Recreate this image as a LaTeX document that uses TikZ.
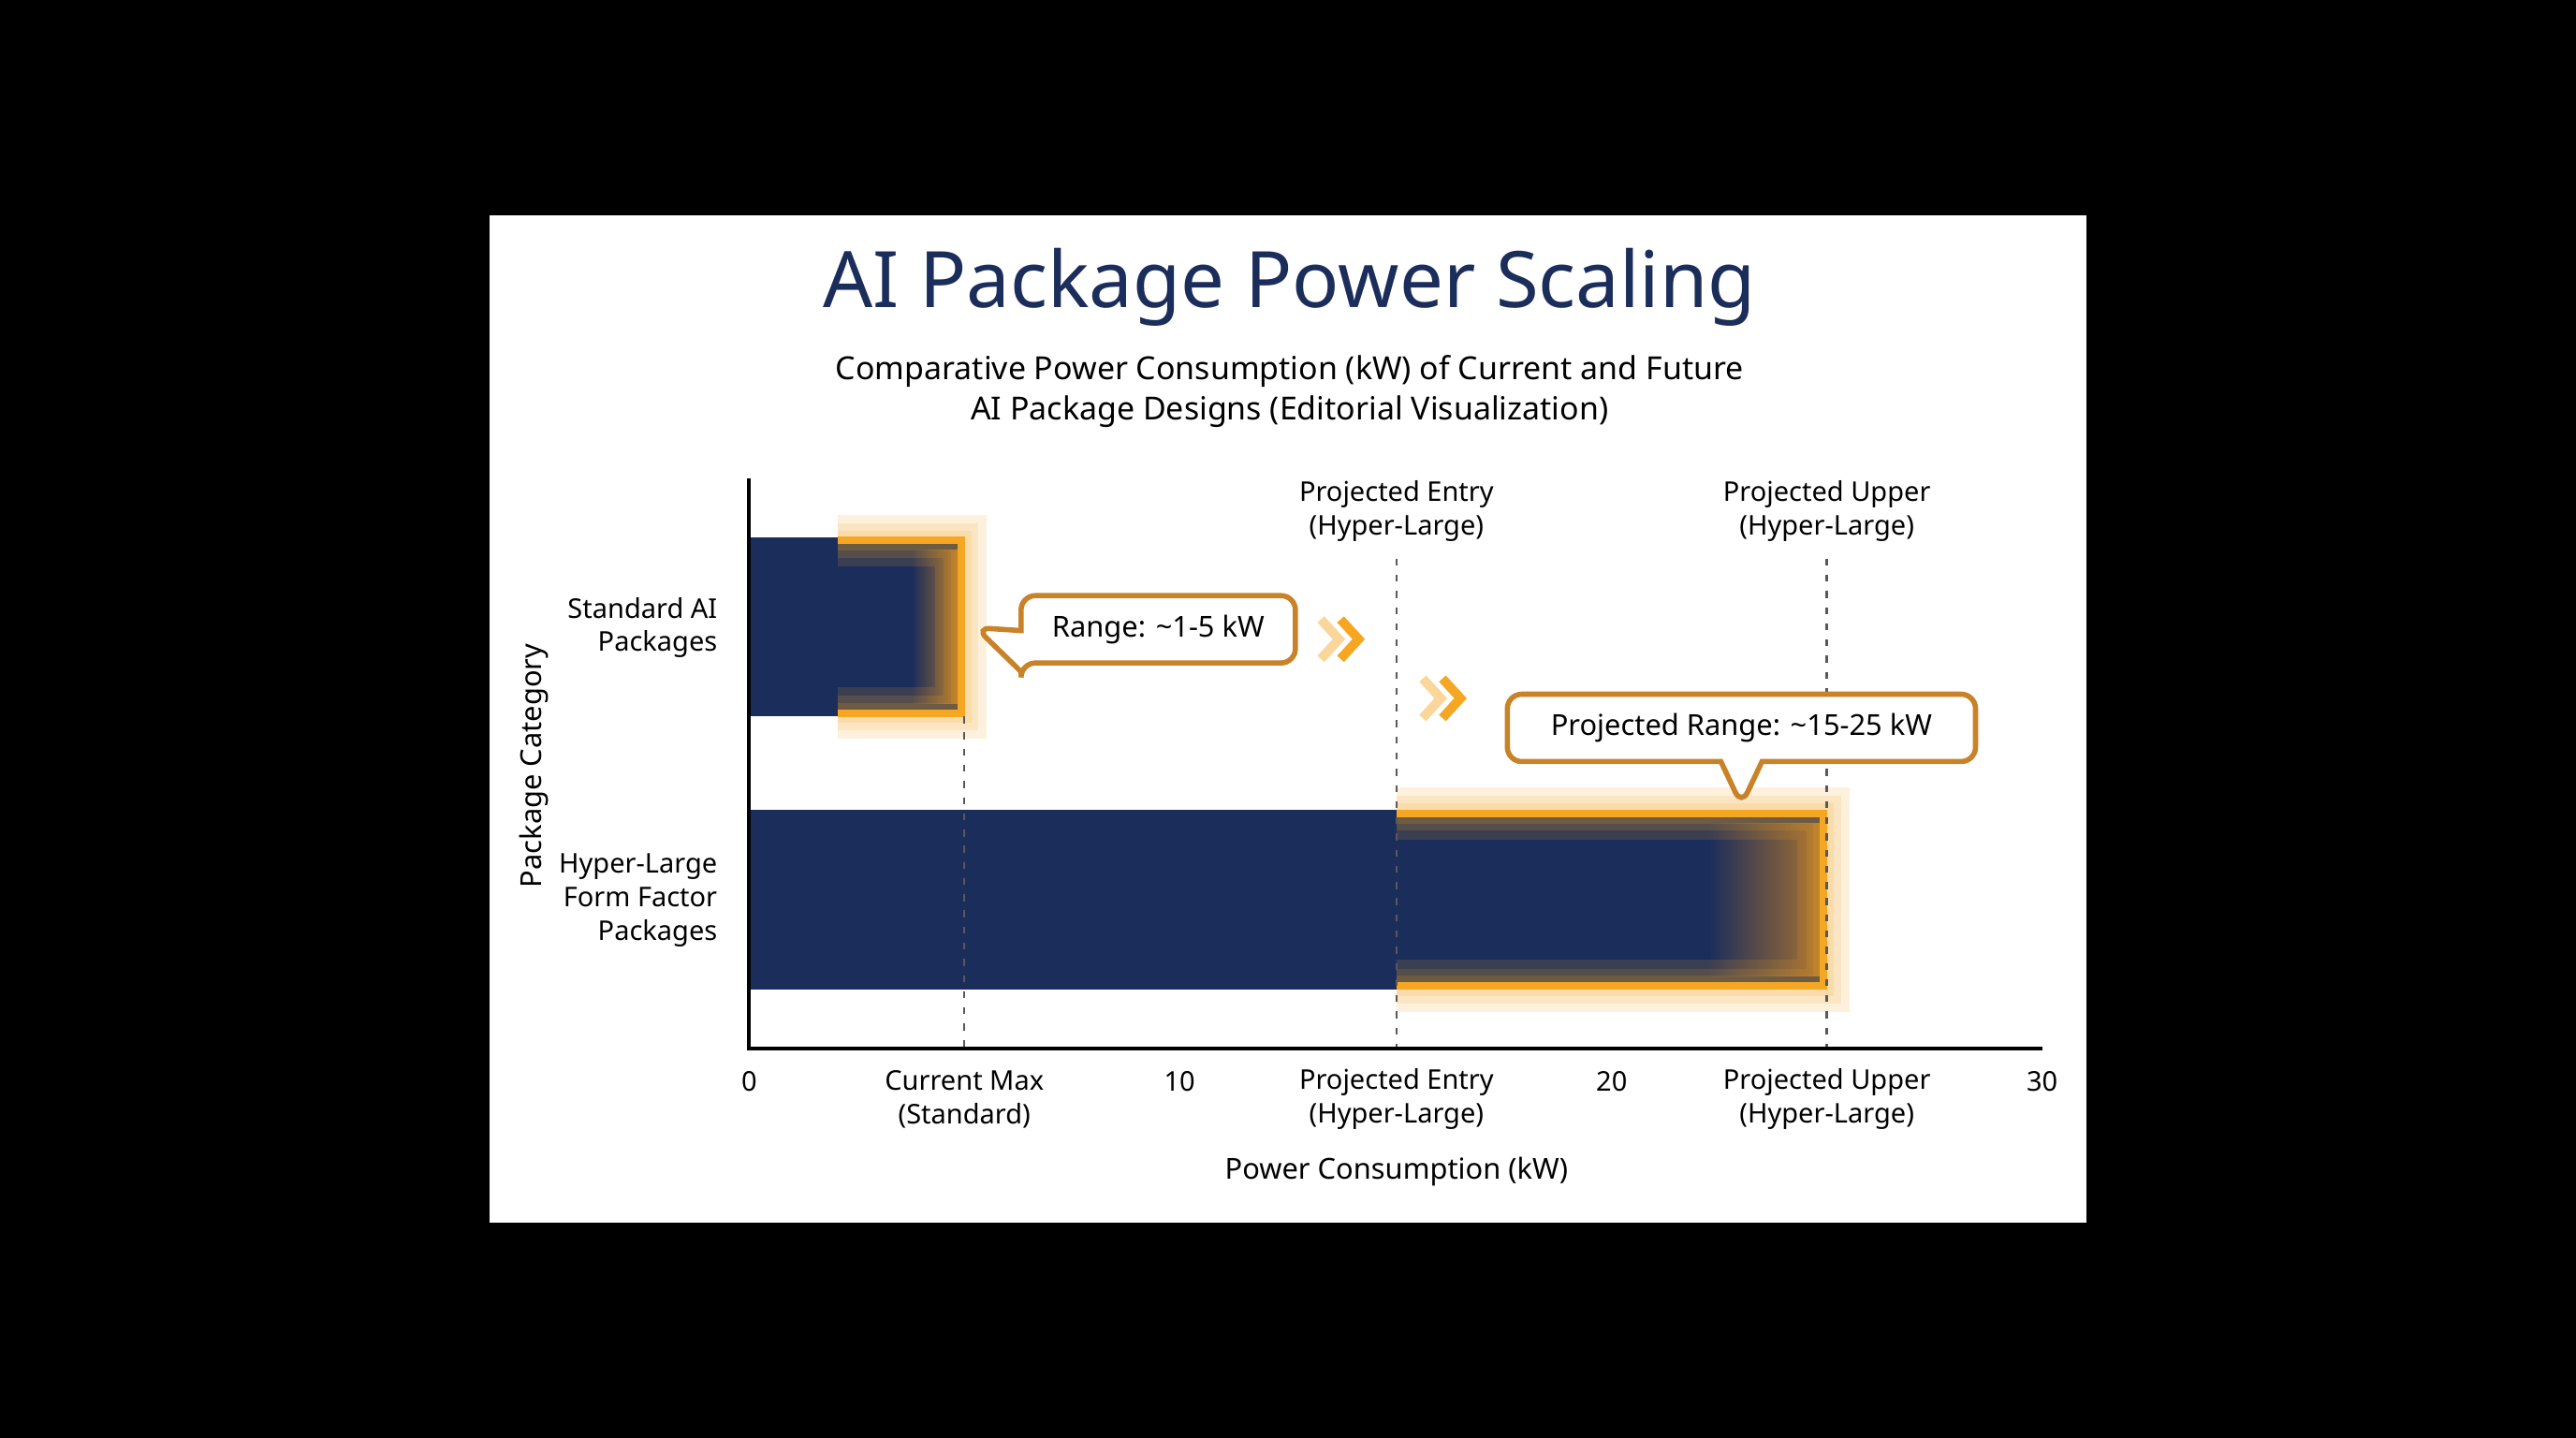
\documentclass[tikz,border=0pt]{standalone}
\usepackage{fontspec}
\setmainfont{Noto Sans}
\usetikzlibrary{positioning,shapes.callouts}
\definecolor{navy}{HTML}{1B2D5B}
\definecolor{amber}{HTML}{F5A623}
\definecolor{bronze}{HTML}{C98228}
\begin{document}
\begin{tikzpicture}[x=0.1mm,y=-0.1mm,
	lbl/.style={font=\fontsize{4.7pt}{5.8pt}\selectfont,align=center,text=black},
	cat/.style={font=\fontsize{4.7pt}{5.8pt}\selectfont,align=right,anchor=east},
	ttl/.style={font=\fontsize{5pt}{6pt}\selectfont\bfseries},
	guide/.style={dash pattern=on 1.2pt off 1.6pt,line width=0.4pt,gray!70!black},
	glow/.style={amber,line width=#1,opacity=0.15,line join=miter},
	callout/.style={rectangle callout,draw=bronze,line width=0.9pt,fill=white,rounded corners=2.5pt,
		font=\fontsize{5pt}{6pt}\selectfont\bfseries,inner xsep=4pt,minimum height=3.8mm},
	chev/.style={amber,line width=1.6pt,line join=miter}]
	\fill[black] (0,0) rectangle (1568,875);
	\fill[white] (298,131) rectangle (1270,744);
	% heading
	\node[font=\fontsize{13.5pt}{15pt}\selectfont\bfseries,text=navy] (title) at (785,175) {AI Package Power Scaling};
	\node[font=\fontsize{5.5pt}{7pt}\selectfont,align=center] (subtitle) at (785,238)
		{Comparative Power Consumption (kW) of Current and Future\\AI Package Designs (Editorial Visualization)};
	% bars
	\fill[navy] (456,327) rectangle (587,436);
	\fill[navy] (456,493) rectangle (1112,602);
	\shade[left color=navy,right color=bronze!80!navy] (555,335) rectangle (583,428);
	\shade[left color=navy,right color=bronze!80!navy] (1040,501) rectangle (1108,594);
	\foreach \w in {9pt,6pt,3.5pt}{
		\draw[glow=\w] (510,329) -- (585,329) -- (585,434) -- (510,434);
		\draw[glow=\w] (850,495) -- (1110,495) -- (1110,600) -- (850,600);
	}
	\draw[amber,line width=1.3pt] (510,329) -- (585,329) -- (585,434) -- (510,434);
	\draw[amber,line width=1.3pt] (850,495) -- (1110,495) -- (1110,600) -- (850,600);
	% guides
	\coordinate (g1t) at (587,436); \coordinate (g1b) at (587,638);
	\coordinate (g2t) at (850,340); \coordinate (g2b) at (850,638);
	\coordinate (g3t) at (1112,340); \coordinate (g3b) at (1112,638);
	\draw[guide] (g1t) -- (g1b);
	\draw[guide] (g2t) -- (g2b);
	\draw[guide] (g3t) -- (g3b);
	% axes
	\coordinate (origin) at (456,638);
	\coordinate (xend) at (1243,638);
	\coordinate (yend) at (456,291);
	\draw[line width=0.6pt] (yend) -- (origin) -- (xend);
	\foreach \x/\t in {456/0,718/10,981/20,1243/30}
		\node[lbl] (tick\t) at (\x,658) {\t};
	\node[lbl] (curmax) at (587,669) {Current Max\\(Standard)};
	\node[lbl] (entry) at (850,669) {Projected Entry\\(Hyper-Large)};
	\node[lbl] (upper) at (1112,669) {Projected Upper\\(Hyper-Large)};
	\node[lbl] (entrytop) at (850,311) {Projected Entry\\(Hyper-Large)};
	\node[lbl] (uppertop) at (1112,311) {Projected Upper\\(Hyper-Large)};
	\node[ttl] (xlabel) at (850,713) {Power Consumption (kW)};
	\node[ttl,rotate=90] (ylabel) at (325,466) {Package Category};
	\node[cat] (standard) at (449,382) {Standard AI\\Packages};
	\node[cat] (hyper) at (449,548) {Hyper-Large\\Form Factor\\Packages};
	% callouts
	\node[callout,callout absolute pointer={(594,382)},minimum width=16.7mm] (range) at (705,383) {Range: \textasciitilde1-5 kW};
	\node[callout,callout absolute pointer={(1060,490)},minimum width=28.5mm] (projrange) at (1060,443) {Projected Range: \textasciitilde15-25 kW};
	% chevrons
	\draw[chev,opacity=0.45] (804,377) -- (815,389) -- (804,401);
	\draw[chev] (816,377) -- (827,389) -- (816,401);
	\draw[chev,opacity=0.45] (866,413) -- (877,425) -- (866,437);
	\draw[chev] (878,413) -- (889,425) -- (878,437);
\end{tikzpicture}
\end{document}
